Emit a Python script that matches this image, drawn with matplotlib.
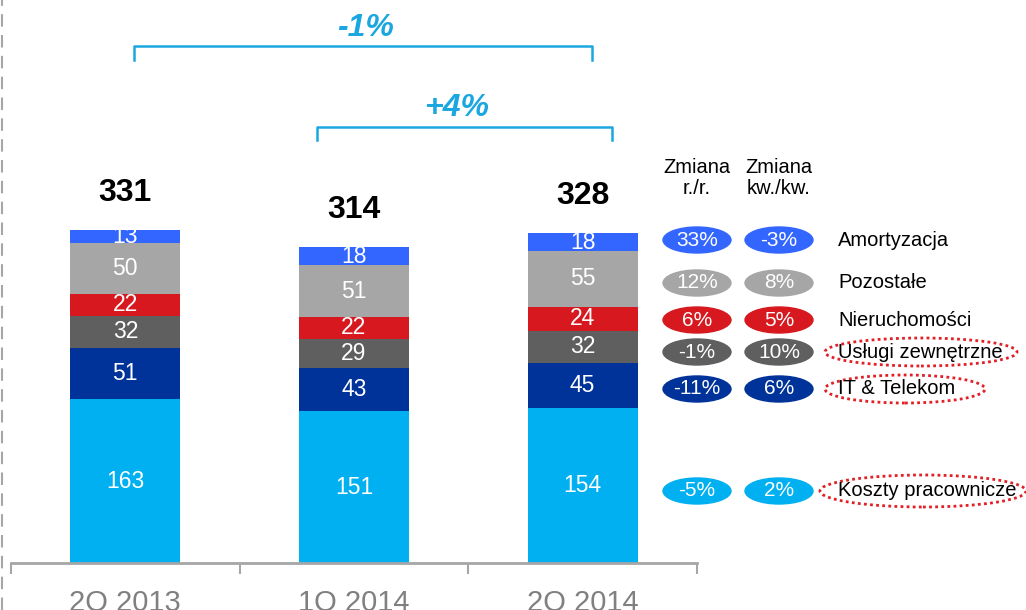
import matplotlib
matplotlib.use('Agg')
import matplotlib.pyplot as plt
from matplotlib.patches import Ellipse
from matplotlib.lines import Line2D

plt.rcParams['font.family'] = ['Liberation Sans', 'DejaVu Sans']

quarters = ['2Q 2013', '1Q 2014', '2Q 2014']
segments = ['Koszty pracownicze', 'IT & Telekom', 'Usługi zewnętrzne',
            'Nieruchomości', 'Pozostałe', 'Amortyzacja']
values = [[163, 151, 154],
          [51, 43, 45],
          [32, 29, 32],
          [22, 22, 24],
          [50, 51, 55],
          [13, 18, 18]]
totals = [331, 314, 328]
colors = ['#00B0F0', '#003399', '#5F5F5F', '#D7191F', '#A6A6A6', '#3366FF']
change_yoy = ['-5%', '-11%', '-1%', '6%', '12%', '33%']
change_qoq = ['2%', '6%', '10%', '5%', '8%', '-3%']
circled = [True, True, True, False, False, False]

W, H = 1026, 610
fig = plt.figure(figsize=(W / 100, H / 100), dpi=100)
ax = fig.add_axes([11 / W, 47 / H, 686 / W, 563 / H])
ax.set_xlim(-0.5, 2.5)
ax.set_ylim(0, 560)

x = range(len(quarters))
bottom = [0, 0, 0]
for vals, col in zip(values, colors):
    ax.bar(x, vals, 0.48, bottom=bottom, color=col, zorder=2)
    for i, v in enumerate(vals):
        ax.text(i, bottom[i] + v / 2, str(v), ha='center', va='center',
                color='white', fontsize=16.5)
    bottom = [b + v for b, v in zip(bottom, vals)]

for i, t in enumerate(totals):
    ax.text(i, bottom[i] + 37, str(t), ha='center', va='center',
            fontsize=23, fontweight='bold', color='black')

# brackets
br_col = '#1AA7E0'
ax.plot([0.04, 0.04, 2.04, 2.04], [500, 514, 514, 500], color=br_col, lw=1.8,
        clip_on=False)
ax.text(1.05, 532, '-1%', ha='center', va='center', fontsize=23,
        fontweight='bold', fontstyle='italic', color=br_col)
ax.plot([0.84, 0.84, 2.13, 2.13], [421, 434, 434, 421], color=br_col, lw=1.8,
        clip_on=False)
ax.text(1.45, 453, '+4%', ha='center', va='center', fontsize=23,
        fontweight='bold', fontstyle='italic', color=br_col)

# axes styling
for s in ['top', 'right', 'left']:
    ax.spines[s].set_visible(False)
ax.spines['bottom'].set_color('#A6A6A6')
ax.spines['bottom'].set_linewidth(2)
ax.set_yticks([])
ax.set_xticks(list(x))
ax.set_xticklabels(quarters, fontsize=21, color='#808080')
ax.tick_params(axis='x', length=0, pad=19)
ax.set_xticks([-0.5, 0.5, 1.5, 2.5], minor=True)
ax.tick_params(axis='x', which='minor', length=8, width=1.5, color='#A6A6A6')

# left dashed border
fig.add_artist(Line2D([1.5 / W, 1.5 / W], [0, 1], color='#A6A6A6', lw=1.5,
                      ls=(0, (6, 4))))


def fx(px):
    return px / W


def fy(py):
    return 1 - py / H


fig.text(fx(697), fy(178), 'Zmiana\nr./r.', ha='center', va='center',
         fontsize=14.5, linespacing=1.15)
fig.text(fx(779), fy(178), 'Zmiana\nkw./kw.', ha='center', va='center',
         fontsize=14.5, linespacing=1.15)

row_y = [491, 389, 352, 320, 283, 240]
ring = {0: (923, 206, 32), 1: (905, 160, 28), 2: (921, 192, 28)}
for k in range(len(segments)):
    y = row_y[k]
    for cx, lab in [(697, change_yoy[k]), (779, change_qoq[k])]:
        fig.add_artist(Ellipse((fx(cx), fy(y)), 68 / W, 26 / H,
                               transform=fig.transFigure, color=colors[k]))
        fig.text(fx(cx), fy(y), lab, ha='center', va='center', color='white',
                 fontsize=15)
    fig.text(fx(838), fy(y), segments[k], ha='left', va='center',
             fontsize=14.5)
    if circled[k]:
        cx, w, h = ring[k]
        fig.add_artist(Ellipse((fx(cx), fy(y)), w / W, h / H,
                               transform=fig.transFigure, fill=False,
                               ec='#E31E24', lw=2, ls=(0, (1, 1.2))))

fig.savefig('out.png', dpi=100)
